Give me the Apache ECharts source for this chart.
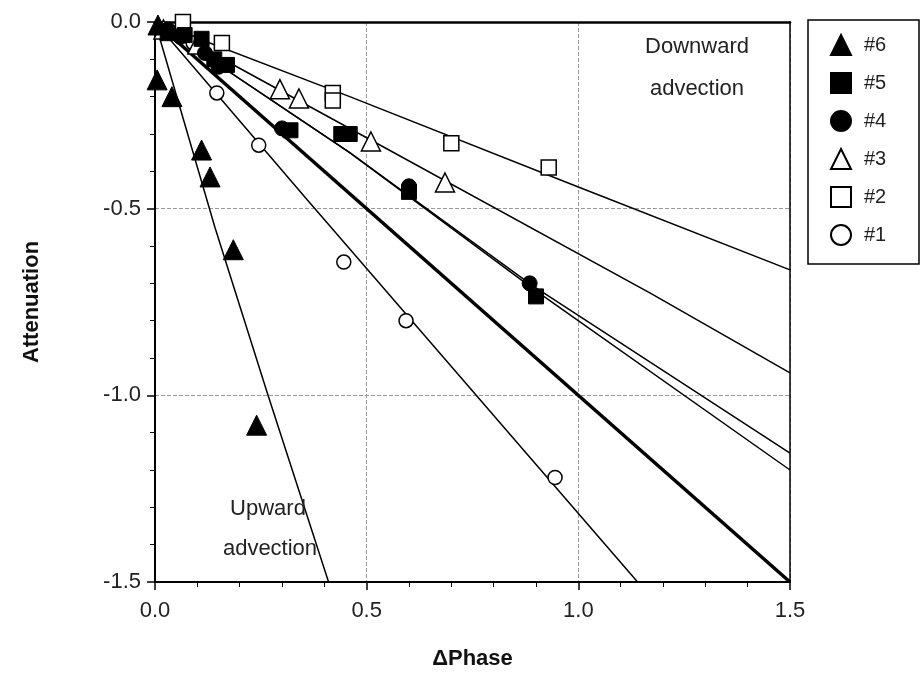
<!DOCTYPE html>
<html>
<head>
<meta charset="utf-8">
<script src="https://cdn.jsdelivr.net/npm/echarts@6/dist/echarts.min.js"></script>
<style>
  html, body { margin: 0; padding: 0; background: #fff; }
  #chart { width: 924px; height: 680px; }
</style>
</head>
<body>
<div id="chart"></div>
<script>
// markers [dPhase, attenuation]
const s6 = [[0.007, -0.008], [0.005, -0.155], [0.04, -0.20], [0.11, -0.343], [0.13, -0.415], [0.185, -0.61], [0.24, -1.08]];
const s5 = [[0.03, -0.03], [0.07, -0.035], [0.11, -0.045], [0.14, -0.1], [0.17, -0.115], [0.32, -0.29], [0.44, -0.30], [0.46, -0.30], [0.6, -0.455], [0.9, -0.735]];
const s4 = [[0.03, -0.02], [0.06, -0.04], [0.118, -0.083], [0.15, -0.12], [0.3, -0.285], [0.6, -0.44], [0.885, -0.70]];
const s3 = [[0.02, -0.02], [0.1, -0.06], [0.295, -0.18], [0.34, -0.205], [0.51, -0.32], [0.685, -0.43]];
const s2 = [[0.066, 0.0], [0.158, -0.056], [0.42, -0.19], [0.42, -0.21], [0.70, -0.325], [0.93, -0.39]];
const s1 = [[0.02, -0.02], [0.09, -0.056], [0.146, -0.19], [0.245, -0.33], [0.446, -0.643], [0.593, -0.80], [0.945, -1.22]];

// fitted curves
const line6 = [[0, 0], [0.142, -0.552], [0.267, -1.0], [0.41, -1.5]];
const line1 = [[0, 0], [0.36, -0.477], [0.673, -0.887], [1.14, -1.5]];
const lineHeavy = [[0, 0], [1.5, -1.5]];
const line5 = [[0, 0], [0.46, -0.35], [0.9, -0.72], [1.5, -1.20]];
const line4 = [[0, 0], [0.46, -0.35], [0.89, -0.705], [1.5, -1.155]];
const line3 = [[0, 0], [0.5, -0.31], [1.17, -0.726], [1.5, -0.94]];
const line2 = [[0, 0], [0.46, -0.2], [1.0, -0.442], [1.5, -0.664]];

const legendNames = ['#6', '#5', '#4', '#3', '#2', '#1'];

const font = 'Liberation Sans, Arial, sans-serif';
let chart = echarts.init(document.getElementById('chart'));

function curve(data, w) {
  return {
    type: 'line', data: data, showSymbol: false, silent: true,
    lineStyle: { color: '#000', width: w }, z: 2
  };
}
function marks(name, data, symbol, size, filled) {
  return {
    name: name, type: 'scatter', data: data, symbol: symbol, symbolSize: size, z: 5,
    itemStyle: filled
      ? { color: '#000', borderColor: '#000', borderWidth: 1, opacity: 1 }
      : { color: '#fff', borderColor: '#000', borderWidth: 1.5, opacity: 1 }
  };
}
function label(x, y, text) {
  return {
    type: 'text', x: x, y: y, z: 10,
    style: { text: text, fontFamily: font, fontSize: 22, fill: '#222', align: 'center', verticalAlign: 'middle' }
  };
}

chart.setOption({
  animation: false,
  grid: { left: 155, right: 134, top: 22, bottom: 98 },
  xAxis: [{
    type: 'value', min: 0, max: 1.5, interval: 0.5, position: 'bottom',
    name: 'ΔPhase', nameLocation: 'middle', nameGap: 66,
    nameTextStyle: { fontFamily: font, fontSize: 22, fontWeight: 'bold', color: '#111' },
    axisLine: { onZero: false, lineStyle: { color: '#000', width: 2 } },
    axisTick: { inside: false, length: 8, lineStyle: { color: '#000', width: 1.5 } },
    minorTick: { show: true, splitNumber: 5, length: 5, lineStyle: { color: '#000', width: 1 } },
    axisLabel: { margin: 18, fontFamily: font, fontSize: 22, color: '#222', formatter: v => v.toFixed(1) },
    splitLine: { show: true, lineStyle: { color: '#999', type: 'dashed', width: 1 } }
  }, {
    type: 'value', min: 0, max: 1.5, position: 'top',
    axisLine: { onZero: false, lineStyle: { color: '#000', width: 2.5 } },
    axisTick: { show: false }, minorTick: { show: false }, axisLabel: { show: false },
    splitLine: { show: false }, minorSplitLine: { show: false }
  }],
  yAxis: [{
    type: 'value', min: -1.5, max: 0, interval: 0.5, position: 'left',
    name: 'Attenuation', nameLocation: 'middle', nameGap: 112, nameRotate: 90,
    nameTextStyle: { fontFamily: font, fontSize: 22, fontWeight: 'bold', color: '#111' },
    axisLine: { show: true, onZero: false, lineStyle: { color: '#000', width: 2 } },
    axisTick: { show: true, inside: false, length: 8, lineStyle: { color: '#000', width: 1.5 } },
    minorTick: { show: true, splitNumber: 5, length: 5, lineStyle: { color: '#000', width: 1 } },
    axisLabel: { margin: 14, fontFamily: font, fontSize: 22, color: '#222', formatter: v => v.toFixed(1) },
    splitLine: { show: true, lineStyle: { color: '#999', type: 'dashed', width: 1 } }
  }, {
    type: 'value', min: -1.5, max: 0, position: 'right',
    axisLine: { show: true, onZero: false, lineStyle: { color: '#000', width: 1.5 } },
    axisTick: { show: false }, minorTick: { show: false }, axisLabel: { show: false },
    splitLine: { show: false }, minorSplitLine: { show: false }
  }],
  legend: {
    data: legendNames, orient: 'vertical', left: 830, top: 34,
    itemGap: 16, itemWidth: 20, itemHeight: 20, padding: 0,
    textStyle: { fontFamily: font, fontSize: 20, color: '#222', padding: [0, 0, 0, 8] }
  },
  graphic: [
    { type: 'rect', shape: { x: 808, y: 20, width: 111, height: 244 },
      style: { fill: 'none', stroke: '#000', lineWidth: 1.5 }, z: 0 },
    label(697, 47, 'Downward'),
    label(697, 89, 'advection'),
    label(268, 509, 'Upward'),
    label(270, 549, 'advection')
  ],
  series: [
    curve(line6, 1.5), curve(line1, 1.5), curve(lineHeavy, 3.5),
    curve(line5, 1.5), curve(line4, 1.5), curve(line3, 1.5), curve(line2, 1.5),
    marks('#1', s1, 'circle', 14, false),
    marks('#2', s2, 'rect', 15, false),
    marks('#3', s3, 'triangle', 19, false),
    marks('#4', s4, 'circle', 15, true),
    marks('#5', s5, 'rect', 15, true),
    marks('#6', s6, 'triangle', 20, true)
  ]
});
</script>
</body>
</html>
